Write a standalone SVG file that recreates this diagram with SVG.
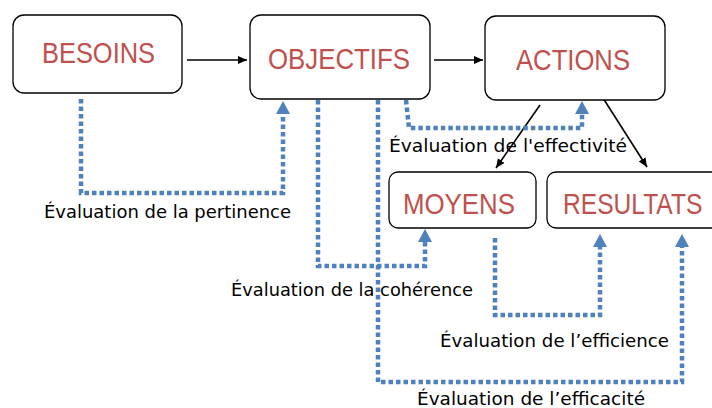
<svg xmlns="http://www.w3.org/2000/svg" width="712" height="408" viewBox="0 0 712 408">
<style>
.box{fill:#fff;stroke:#000;stroke-width:1.3}
.t{font-family:"Liberation Sans",Arial,sans-serif;font-size:30px;fill:#C0504D}
.lbl{font-family:"DejaVu Sans","Noto Sans",sans-serif;font-size:18px;fill:#000}
.dot{fill:none;stroke:#4F81BD;stroke-width:4.5;stroke-dasharray:4.5 3}
.blk{fill:none;stroke:#000;stroke-width:1.6}
</style>
<defs>
<marker id="ba" markerUnits="userSpaceOnUse" markerWidth="14" markerHeight="14" refX="0" refY="7" orient="auto">
<path d="M0,0 L13,7 L0,14 z" fill="#4F81BD"/>
</marker>
<marker id="ka" markerUnits="userSpaceOnUse" markerWidth="10" markerHeight="9" refX="9" refY="4" orient="auto">
<path d="M0,0 L9,4 L0,8 z" fill="#000"/>
</marker>
</defs>
<rect width="712" height="408" fill="#fff"/>
<g id="connectors">
<path class="blk" d="M187,60 H247" marker-end="url(#ka)"/>
<path class="blk" d="M434,60 H483" marker-end="url(#ka)"/>
<path class="blk" d="M540,105 L496,168" marker-end="url(#ka)"/>
<path class="blk" d="M603,98 L647,167" marker-end="url(#ka)"/>
<path class="dot" d="M81,99 V193 H283 V114" marker-end="url(#ba)"/>
<path class="dot" d="M318,100 V266 H425 V242" marker-end="url(#ba)"/>
<path class="dot" d="M406,100 L409,128 H582 V114" marker-end="url(#ba)"/>
<path class="dot" d="M495,238 V315 H600 V247" marker-end="url(#ba)"/>
<path class="dot" d="M378,100 V382 H682 V247" marker-end="url(#ba)"/>
</g>
<g id="besoins">
<rect class="box" x="13" y="15" width="169" height="78" rx="11"/>
<text class="t" x="42" y="63" textLength="113" lengthAdjust="spacingAndGlyphs">BESOINS</text>
</g>
<g id="objectifs">
<rect class="box" x="250" y="15" width="180" height="84" rx="11"/>
<text class="t" x="268" y="69" textLength="142" lengthAdjust="spacingAndGlyphs">OBJECTIFS</text>
</g>
<g id="actions">
<rect class="box" x="485" y="16" width="180" height="84" rx="11"/>
<text class="t" x="516" y="70" textLength="114" lengthAdjust="spacingAndGlyphs">ACTIONS</text>
</g>
<g id="moyens">
<rect class="box" x="389" y="172" width="147" height="56" rx="9"/>
<text class="t" x="403" y="214" textLength="112" lengthAdjust="spacingAndGlyphs">MOYENS</text>
</g>
<g id="resultats">
<rect class="box" x="547" y="172" width="180" height="56" rx="9"/>
<text class="t" x="0" y="0" transform="translate(563,214) scale(0.82,1)">RESULTATS</text>
</g>
<g id="labels">
<text class="lbl" x="44" y="218" textLength="247" lengthAdjust="spacingAndGlyphs">Évaluation de la pertinence</text>
<text class="lbl" x="231" y="296" textLength="242" lengthAdjust="spacingAndGlyphs">Évaluation de la cohérence</text>
<text class="lbl" x="389" y="152" textLength="238" lengthAdjust="spacingAndGlyphs">Évaluation de l'effectivité</text>
<text class="lbl" x="440" y="347" textLength="229" lengthAdjust="spacingAndGlyphs">Évaluation de l’efficience</text>
<text class="lbl" x="417" y="405" textLength="228" lengthAdjust="spacingAndGlyphs">Évaluation de l’efficacité</text>
</g>
</svg>
